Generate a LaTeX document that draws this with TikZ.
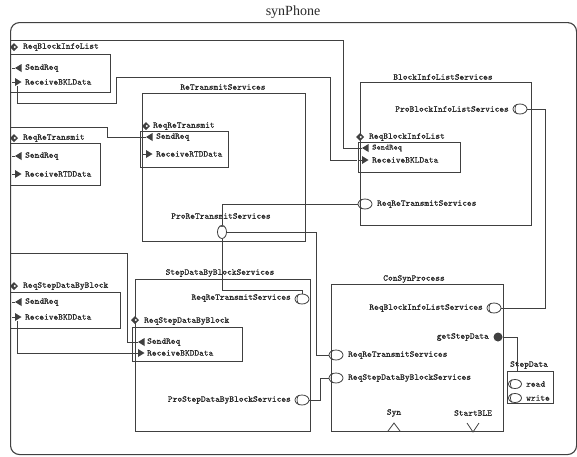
\documentclass[tikz,border=0pt]{standalone}
\usepackage{fontspec}
\setmainfont{Liberation Serif}
\setmonofont{Latin Modern Mono}[FakeBold=0.6]
\usetikzlibrary{shapes.geometric,calc}
\definecolor{linec}{HTML}{404040}
\definecolor{txtc}{HTML}{2A2A2A}
\newcommand\monotxt{\ttfamily\fontsize{9}{9}\selectfont}
\newcommand\sendicon[2]{\fill[linec] (#1,#2) -- ++(6.5,-4) -- ++(0,8) -- cycle; \draw[linec,line width=0.9pt] (#1-3,#2) -- (#1,#2);}
\newcommand\recvicon[2]{\draw[linec,line width=0.9pt] (#1-3,#2) -- (#1,#2); \fill[linec] (#1,#2-4) -- ++(6.5,4) -- ++(-6.5,4) -- cycle;}
\newcommand\ifaceicon[2]{\fill[linec] (#1,#2-4) -- (#1+4,#2) -- (#1,#2+4) -- (#1-4,#2) -- cycle; \fill[white] (#1+0.8,#2) circle (1.1);}
\newcommand\portarc[1]{\draw[linec,line width=0.7pt] (#1.125) to[bend right=35] (#1.235);}
\begin{document}
\begin{tikzpicture}[x=1pt,y=-1pt,
  frame/.style={draw=linec, line width=1.1pt, inner sep=0pt, anchor=north west},
  compbox/.style={draw=linec, line width=0.9pt, inner sep=0pt, anchor=north west},
  wire/.style={draw=linec, line width=0.8pt},
  lbl/.style={font=\monotxt, text=txtc, inner sep=0pt},
  port/.style={draw=linec, line width=0.8pt, ellipse, minimum width=14pt, minimum height=10pt, inner sep=0pt},
  fport/.style={fill=linec, circle, minimum size=9pt, inner sep=0pt}]
\useasboundingbox (0,0) rectangle (577,456);

% title and outer frame
\node[font=\fontsize{14}{14}\selectfont, text=txtc] (title) at (293,12) {synPhone};
\node[frame, rounded corners=9pt, minimum width=566pt, minimum height=432pt] (syn) at (10,22) {};

% ---------- left ports of synPhone ----------
\ifaceicon{14}{47}
\node[lbl, anchor=west] (l1t) at (23,47) {ReqBlockInfoList};
\node[compbox, minimum width=100pt, minimum height=38pt] (l1) at (10,54) {};
\sendicon{15}{68}
\node[lbl, anchor=west] (l1s) at (25,68) {SendReq};
\recvicon{15}{82}
\node[lbl, anchor=west] (l1r) at (25,82) {ReceiveBKLData};

\ifaceicon{14}{138}
\node[lbl, anchor=west] (l2t) at (23,138) {ReqReTransmit};
\node[compbox, minimum width=90pt, minimum height=42pt] (l2) at (10,143) {};
\sendicon{15}{156}
\node[lbl, anchor=west] (l2s) at (25,156) {SendReq};
\recvicon{15}{174}
\node[lbl, anchor=west] (l2r) at (25,174) {ReceiveRTDData};

\ifaceicon{14}{286}
\node[lbl, anchor=west] (l3t) at (23,286) {ReqStepDataByBlock};
\node[compbox, minimum width=110pt, minimum height=36pt] (l3) at (10,292) {};
\sendicon{15}{302}
\node[lbl, anchor=west] (l3s) at (25,302) {SendReq};
\recvicon{15}{317}
\node[lbl, anchor=west] (l3r) at (25,317) {ReceiveBKDData};

% ---------- ReTransmitServices ----------
\node[compbox, minimum width=163pt, minimum height=148pt] (rts) at (142,93) {};
\node[lbl] (rtst) at (223,87) {ReTransmitServices};
\ifaceicon{146}{126}
\node[lbl, anchor=west] (rtsi) at (153,126) {ReqReTransmit};
\node[compbox, minimum width=88pt, minimum height=36pt] (rtsb) at (140,131) {};
\sendicon{146}{137}
\node[lbl, anchor=west] (rtss) at (156,137) {SendReq};
\recvicon{146}{154}
\node[lbl, anchor=west] (rtsr) at (156,154) {ReceiveRTDData};
\node[lbl] (prortt) at (221,216) {ProReTransmitServices};
\node[port, minimum width=9pt, minimum height=13pt] (proRT) at (222,232) {};
\draw[linec,line width=0.7pt] (proRT.70) to[bend left=30] (proRT.110);

% ---------- BlockInfoListServices ----------
\node[compbox, minimum width=171pt, minimum height=143pt] (bils) at (360,82) {};
\node[lbl] (bilst) at (443,77) {BlockInfoListServices};
\node[lbl, anchor=east] (bprot) at (509,109) {ProBlockInfoListServices};
\node[port] (bProBIL) at (520,109) {};
\portarc{bProBIL}
\ifaceicon{360}{137}
\node[lbl, anchor=west] (bilsi) at (369,137) {ReqBlockInfoList};
\node[compbox, minimum width=102pt, minimum height=30pt] (bilsb) at (358,142) {};
\sendicon{362}{148}
\node[lbl, anchor=west, font=\ttfamily\fontsize{8}{8}\selectfont] (bilss) at (372,148) {SendReq};
\recvicon{362}{160}
\node[lbl, anchor=west] (bilsr) at (372,160) {ReceiveBKLData};
\node[port] (bReqRT) at (365,204) {};
\portarc{bReqRT}
\node[lbl, anchor=west] (breqt) at (377,204) {ReqReTransmitServices};

% ---------- StepDataByBlockServices ----------
\node[compbox, minimum width=175pt, minimum height=152pt] (sdbs) at (135,279) {};
\node[lbl] (sdbst) at (220,273) {StepDataByBlockServices};
\node[lbl, anchor=east] (sreqt) at (291,298) {ReqReTransmitServices};
\node[port] (sReqRT) at (302,299) {};
\portarc{sReqRT}
\ifaceicon{135}{320}
\node[lbl, anchor=west] (sdbsi) at (144,321) {ReqStepDataByBlock};
\node[compbox, minimum width=110pt, minimum height=34pt] (sdbsb) at (132,327) {};
\sendicon{138}{342}
\node[lbl, anchor=west] (sdbss) at (147,342) {SendReq};
\recvicon{138}{353}
\node[lbl, anchor=west] (sdbsr) at (147,353) {ReceiveBKDData};
\node[lbl, anchor=east] (sprot) at (291,400) {ProStepDataByBlockServices};
\node[port] (sProSDB) at (302,400) {};
\portarc{sProSDB}

% ---------- ConSynProcess ----------
\node[compbox, minimum width=172pt, minimum height=147pt] (csp) at (331,284) {};
\node[lbl] (cspt) at (414,279) {ConSynProcess};
\node[lbl, anchor=east] (creqbt) at (483,308) {ReqBlockInfoListServices};
\node[port] (cReqBIL) at (494,308) {};
\portarc{cReqBIL}
\node[lbl, anchor=east] (cgett) at (489,337) {getStepData};
\node[fport] (cGet) at (498,337) {};
\node[port] (cReqRT) at (336,355) {};
\portarc{cReqRT}
\node[lbl, anchor=west] (creqrt) at (348,355) {ReqReTransmitServices};
\node[port] (cReqSDB) at (336,378) {};
\portarc{cReqSDB}
\node[lbl, anchor=west] (creqst) at (348,378) {ReqStepDataByBlockServices};
\node[lbl] (csyn) at (394,413) {Syn};
\draw[wire] (388,431) -- (394,423) -- (400,431);
\node[lbl] (cstart) at (473,413) {StartBLE};
\draw[wire] (467,423) -- (473,432) -- (479,423);

% ---------- StepData ----------
\node[compbox, minimum width=46pt, minimum height=32pt] (sd) at (507,371) {};
\node[lbl] (sdt) at (529,365) {StepData};
\node[port, minimum width=13pt, minimum height=9pt] (sdRead) at (515,384) {};
\portarc{sdRead}
\node[lbl, anchor=west] (sdr) at (526,384) {read};
\node[port, minimum width=13pt, minimum height=9pt] (sdWrite) at (515,398) {};
\portarc{sdWrite}
\node[lbl, anchor=west] (sdw) at (526,398) {write};

% ---------- connector end points ----------
\coordinate (c1a) at (10,40);
\coordinate (l1rx) at (17,86);
\coordinate (c3a) at (10,127);
\coordinate (c4a) at (10,253);
\coordinate (l3rx) at (17,321);
\coordinate (bSend) at (361,148);
\coordinate (bRecv) at (357,160);
\coordinate (rSend) at (145,137);
\coordinate (sSend) at (137,342);
\coordinate (sRecv) at (135,353);

% ---------- connectors ----------
\draw[wire] (c1a) -| (343,148) -- (bSend);
\draw[wire] (l1rx) |- (116,103) |- (330,77) |- (bRecv);
\draw[wire] (c3a) -| (107,137) -- (rSend);
\draw[wire] (c4a) -| (127,342) -- (sSend);
\draw[wire] (l3rx) |- (sRecv);
\draw[wire] (proRT.north) |- (bReqRT.west);
\draw[wire] (proRT.east) -| (316,355) -- (cReqRT.west);
\draw[wire] (proRT.south) -- (222,290) -| (sReqRT.north);
\draw[wire] (bProBIL.east) -| (545,308) -- (cReqBIL.east);
\draw[wire] (cGet.east) -| ($(sd.north west)+(10,0)$);
\draw[wire] (sProSDB.east) -| (320,378) -- (cReqSDB.west);
\end{tikzpicture}
\end{document}
